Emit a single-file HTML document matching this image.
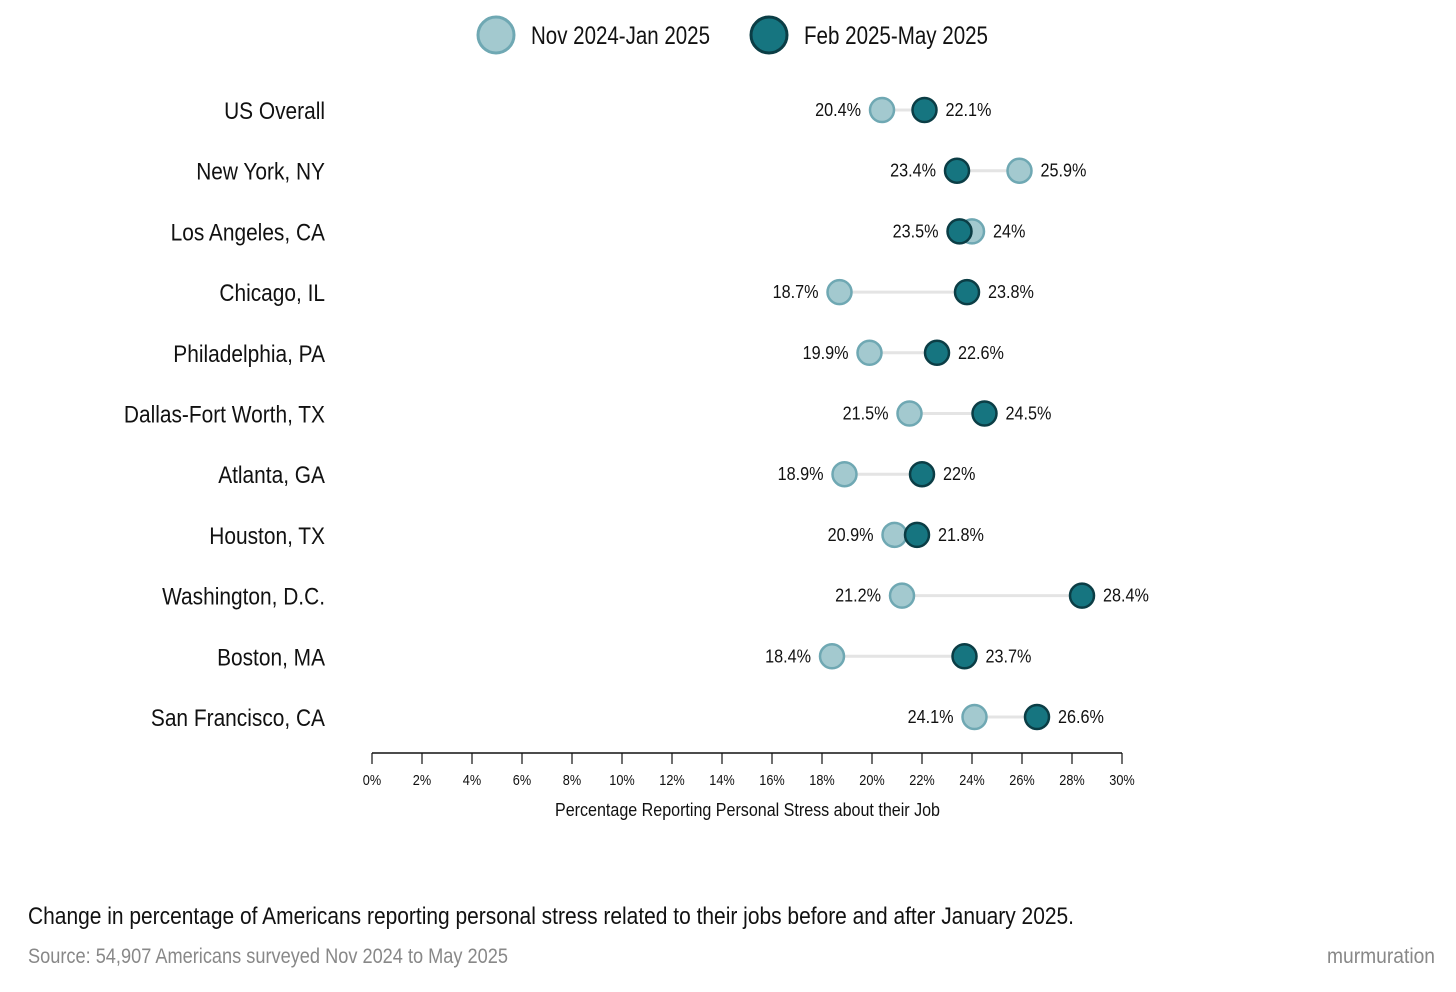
<!DOCTYPE html>
<html><head><meta charset="utf-8"><style>
body{margin:0;background:#fff;width:1456px;height:992px;overflow:hidden}
svg{display:block;font-family:"Liberation Sans Narrow","Liberation Sans",sans-serif}
</style></head><body>
<svg id="chart" width="1456" height="992">
<g id="legend">
<g>
<circle cx="496" cy="35" r="18" fill="#a3c9cf" stroke="#6fa8b3" stroke-width="3"/>
<text x="531" y="44" font-size="25" fill="#111" textLength="179" lengthAdjust="spacingAndGlyphs">Nov 2024-Jan 2025</text></g>
<g>
<circle cx="769" cy="35" r="18" fill="#167580" stroke="#0b3d45" stroke-width="3"/>
<text x="804" y="44" font-size="25" fill="#111" textLength="184" lengthAdjust="spacingAndGlyphs">Feb 2025-May 2025</text></g>
</g>
<g id="rows"></g>
<g id="axis"></g>
<text x="555" y="816" font-size="18" fill="#111" textLength="385" lengthAdjust="spacingAndGlyphs">Percentage Reporting Personal Stress about their Job</text>
<text x="28" y="924" font-size="24" fill="#111" textLength="1046" lengthAdjust="spacingAndGlyphs">Change in percentage of Americans reporting personal stress related to their jobs before and after January 2025.</text>
<text x="28" y="963" font-size="21" fill="#888" textLength="480" lengthAdjust="spacingAndGlyphs">Source: 54,907 Americans surveyed Nov 2024 to May 2025</text>
<text x="1327" y="963" font-size="21" fill="#888" textLength="108" lengthAdjust="spacingAndGlyphs">murmuration</text>
</svg>
<script>
const categories=["US Overall","New York, NY","Los Angeles, CA","Chicago, IL","Philadelphia, PA","Dallas-Fort Worth, TX","Atlanta, GA","Houston, TX","Washington, D.C.","Boston, MA","San Francisco, CA"];
const before=[20.4,25.9,24,18.7,19.9,21.5,18.9,20.9,21.2,18.4,24.1];
const after=[22.1,23.4,23.5,23.8,22.6,24.5,22,21.8,28.4,23.7,26.6];
const ticks=[0,2,4,6,8,10,12,14,16,18,20,22,24,26,28,30];
const NS="http://www.w3.org/2000/svg";
const x=v=>372+v*25;
const y=i=>110+i*60.7;
function mk(t,a,p){const e=document.createElementNS(NS,t);for(const k in a)e.setAttribute(k,a[k]);p.appendChild(e);return e;}
function narrow(e,r){const w=e.getComputedTextLength();e.setAttribute('textLength',(w*r).toFixed(1));e.setAttribute('lengthAdjust','spacingAndGlyphs');}
const rows=document.getElementById('rows');
const fmt=v=>(Math.round(v*10)/10)+'%';
categories.forEach((c,i)=>{
 const g=mk('g',{},rows);
 
 
 const lab=mk('text',{x:325,y:y(i)+9,'font-size':24,'text-anchor':'end',fill:'#111'},g);lab.textContent=c;
 
 
 narrow(lab,0.87);
 const b=before[i],a=after[i];
 const ln=mk('line',{x1:x(b),x2:x(a),y1:y(i),y2:y(i),stroke:'#e4e4e4','stroke-width':3},g);
 
 
 const lo=Math.min(a,b),hi=Math.max(a,b);
 const lt=mk('text',{x:x(lo)-21,y:y(i)+6,'font-size':18,'text-anchor':'end',fill:'#111'},g);lt.textContent=fmt(lo);
 
 
 narrow(lt,0.9);
 const rt=mk('text',{x:x(hi)+21,y:y(i)+6,'font-size':18,fill:'#111'},g);rt.textContent=fmt(hi);
 
 
 narrow(rt,0.9);
 const c1=mk('circle',{cx:x(b),cy:y(i),r:12,fill:'#a3c9cf',stroke:'#6fa8b3','stroke-width':2.5},g);
 
 
 const c2=mk('circle',{cx:x(a),cy:y(i),r:12,fill:'#167580',stroke:'#0b3d45','stroke-width':2.5},g);
 
 
});
const ax=document.getElementById('axis');
mk('line',{x1:x(0),x2:x(30),y1:753,y2:753,stroke:'#111','stroke-width':1.5},ax);
ticks.forEach(t=>{
 mk('line',{x1:x(t),x2:x(t),y1:753,y2:764,stroke:'#111','stroke-width':1.2},ax);
 const tl=mk('text',{x:x(t),y:785,'font-size':15,'text-anchor':'middle',fill:'#111'},ax);tl.textContent=t+'%';
 
 
 narrow(tl,0.85);
});
</script>
</body></html>
